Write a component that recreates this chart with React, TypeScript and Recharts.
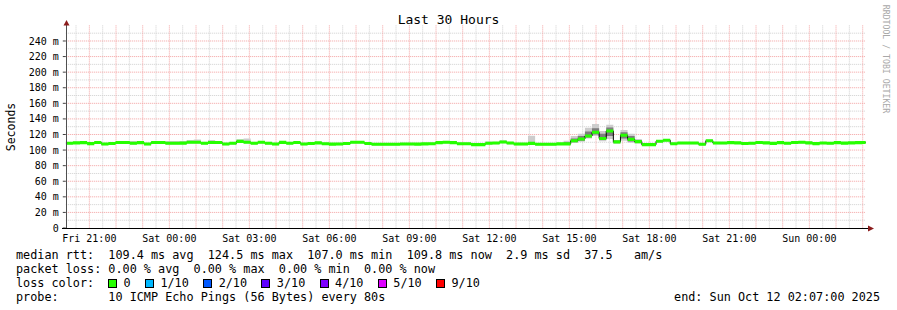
import { ComposedChart, Area, XAxis, YAxis, CartesianGrid } from 'recharts';

// Fri 20:07 -> Sun 02:07, one bucket every 16 minutes
const START_MIN = 7;
const STEP_MIN = 16;
const SPAN_MIN = 1800;

const median = [
  108.7, 109.2, 109.5, 108.3, 109.7, 107.8, 108.5, 109.7, 109.7, 108.7,
  109.5, 107.8, 109.7, 109.7, 108.7, 108.7, 108.9, 110.0, 110.0, 108.7,
  109.7, 109.7, 107.8, 108.7, 111.2, 110.0, 108.7, 110.0, 108.7, 107.8,
  109.9, 108.7, 109.7, 107.8, 108.5, 109.2, 108.2, 107.6, 107.8, 108.5,
  110.0, 110.0, 108.5, 107.5, 107.5, 107.5, 107.5, 107.8, 107.8, 107.6,
  108.0, 108.2, 109.5, 110.0, 109.5, 108.2, 108.2, 107.0, 107.0, 108.7,
  109.0, 110.4, 109.0, 107.8, 107.8, 108.6, 107.5, 107.5, 107.5, 108.0,
  108.0, 112.0, 114.2, 118.0, 122.8, 114.9, 124.5, 110.6, 119.0, 113.8,
  110.8, 107.0, 107.0, 111.3, 112.6, 108.2, 109.0, 109.0, 109.0, 107.5,
  112.0, 109.0, 109.0, 109.5, 109.2, 108.5, 108.7, 109.8, 109.3, 108.6,
  109.5, 108.8, 109.7, 110.0, 109.2, 108.3, 109.0, 108.7, 109.5, 108.9,
  109.2, 109.6, 109.8,
];

const pingMax = [
  110.2, 110.7, 111.0, 109.8, 111.2, 109.3, 110.0, 111.2, 111.2, 111.5,
  111.0, 109.3, 111.2, 111.2, 111.5, 111.5, 111.8, 113.0, 113.5, 110.2,
  113.0, 111.2, 109.3, 110.2, 114.0, 115.0, 110.2, 111.5, 110.2, 109.3,
  111.4, 110.2, 111.2, 109.3, 110.0, 110.7, 109.7, 109.1, 109.3, 110.0,
  111.5, 111.5, 110.0, 109.0, 109.0, 109.0, 109.0, 109.3, 109.3, 109.1,
  109.5, 109.7, 111.0, 111.5, 111.0, 109.7, 109.7, 108.5, 108.5, 111.0,
  110.5, 112.5, 110.5, 109.3, 109.3, 118.5, 109.0, 109.0, 109.0, 109.5,
  112.0, 118.0, 121.0, 128.7, 133.5, 124.5, 132.6, 113.0, 125.8, 121.0,
  114.2, 108.5, 108.5, 113.0, 114.0, 109.7, 110.5, 110.5, 110.5, 109.0,
  113.5, 110.5, 110.5, 111.0, 110.7, 110.0, 110.2, 111.3, 110.8, 110.1,
  111.0, 110.3, 111.2, 111.5, 110.7, 109.8, 110.5, 110.2, 111.0, 110.4,
  110.7, 111.1, 111.3,
];

const pingMin = [
  107.2, 107.7, 108.0, 106.8, 108.2, 106.3, 107.0, 108.2, 108.2, 107.2,
  108.0, 106.3, 108.2, 108.2, 107.2, 107.2, 107.4, 108.5, 108.5, 107.2,
  108.2, 108.2, 106.3, 107.2, 109.7, 108.5, 107.2, 108.5, 107.2, 106.3,
  108.4, 107.2, 108.2, 106.3, 107.0, 107.7, 106.7, 106.1, 106.3, 107.0,
  108.5, 108.5, 107.0, 106.0, 106.0, 106.0, 106.0, 106.3, 106.3, 106.1,
  106.5, 106.7, 108.0, 108.5, 108.0, 106.7, 106.7, 105.5, 105.5, 107.2,
  107.5, 108.9, 107.5, 106.3, 106.3, 107.1, 106.0, 106.0, 106.0, 106.5,
  106.5, 109.5, 110.8, 115.0, 118.0, 111.3, 114.2, 108.2, 112.0, 109.5,
  108.5, 105.5, 105.5, 109.8, 111.1, 106.7, 107.5, 107.5, 107.5, 106.0,
  110.5, 107.5, 107.5, 108.0, 107.7, 107.0, 107.2, 108.3, 107.8, 107.1,
  108.0, 107.3, 108.2, 108.5, 107.7, 106.8, 107.5, 107.2, 108.0, 107.4,
  107.7, 108.1, 108.3,
];

// denser smoke during the Saturday afternoon bump (buckets 70..81)
const INNER_FROM = 70;
const innerHi = [110.0, 115.0, 118.0, 124.0, 128.0, 121.0, 129.0, 112.0, 123.0, 118.0, 113.0, 107.0];
const innerLo = [107.0, 110.0, 112.0, 116.0, 120.0, 113.0, 118.0, 109.5, 115.0, 111.0, 109.5, 107.0];

const xTickHours = [1, 4, 7, 10, 13, 16, 19, 22, 25, 28];
const xTickLabels = ['Fri 21:00', 'Sat 00:00', 'Sat 03:00', 'Sat 06:00', 'Sat 09:00', 'Sat 12:00', 'Sat 15:00', 'Sat 18:00', 'Sat 21:00', 'Sun 00:00'];
const yTicks = [0, 20, 40, 60, 80, 100, 120, 140, 160, 180, 200, 220, 240];
const yMinor = [10, 30, 50, 70, 90, 110, 130, 150, 170, 190, 210, 230, 250];
const xMajor = Array.from({ length: 30 }, (_, i) => i + 1);
const xMinor = Array.from({ length: 30 }, (_, i) => i + 0.5);

const lossLabels = ['0', '1/10', '2/10', '3/10', '4/10', '5/10', '9/10'];
const lossColors = ['#26ff00', '#00b8ff', '#0059ff', '#5e00ff', '#7e00ff', '#dd00ff', '#ff0000'];

const BAND = 2; // half thickness of the median band (ms)
const MONO = '"DejaVu Sans Mono", monospace';
const LEGEND_FONT = 11.8;

const rows = median.map((m, i) => {
  const j = i - INNER_FROM;
  return {
    t: (START_MIN + i * STEP_MIN) / 60,
    med: m,
    smoke: [pingMin[i], pingMax[i]],
    inner: j >= 0 && j < innerHi.length ? [innerLo[j], innerHi[j]] : null,
    band: [m - BAND, m + BAND],
  };
});
const last = rows[rows.length - 1];
rows.push({ ...last, t: (START_MIN + SPAN_MIN) / 60, inner: null });

const legendLine = (top: number, text: string) => (
  <div style={{ position: 'absolute', left: 16, top, fontFamily: MONO, fontSize: LEGEND_FONT, lineHeight: '14px', whiteSpace: 'pre', color: '#000' }}>
    {text}
  </div>
);

export default function App() {
  return (
    <div style={{ position: 'absolute', left: 0, top: 0, width: 897, height: 310, background: '#fff', overflow: 'hidden' }}>
      <ComposedChart width={897} height={310} data={rows} margin={{ top: 25.4, right: 31.2, bottom: 62, left: 0 }}>
        <CartesianGrid horizontalValues={yMinor} verticalValues={xMinor} stroke="#cfcfcf" strokeDasharray="1 1" />
        <CartesianGrid horizontalValues={yTicks.slice(1)} verticalValues={xMajor} stroke="#f3a0a0" strokeDasharray="1 1" />
        <XAxis
          dataKey="t"
          type="number"
          domain={[START_MIN / 60, (START_MIN + SPAN_MIN) / 60]}
          allowDataOverflow
          ticks={xTickHours}
          tickFormatter={(v: number) => xTickLabels[xTickHours.indexOf(v)]}
          height={20}
          axisLine={false}
          tickLine={false}
          tickSize={3}
          tickMargin={4}
          tick={{ fill: '#000', fontSize: 10, fontFamily: MONO }}
          interval={0}
        />
        <YAxis
          type="number"
          domain={[0, 260]}
          allowDataOverflow
          ticks={yTicks}
          tickFormatter={(v: number) => (v === 0 ? '0' : `${v} m`)}
          width={65.8}
          axisLine={false}
          tickLine={{ stroke: '#404040' }}
          tickSize={3}
          tickMargin={4}
          tick={{ fill: '#000', fontSize: 10, fontFamily: MONO }}
          interval={0}
        />
        <Area dataKey="smoke" type="stepAfter" fill="#cdcdcd" fillOpacity={1} stroke="none" isAnimationActive={false} />
        <Area dataKey="inner" type="stepAfter" fill="#6e6e6e" fillOpacity={0.85} stroke="none" isAnimationActive={false} />
        <Area dataKey="med" type="stepAfter" fill="none" stroke="#000" strokeWidth={1} isAnimationActive={false} />
        <Area dataKey="band" type="stepAfter" fill="#26ff00" fillOpacity={1} stroke="none" isAnimationActive={false} />
      </ComposedChart>

      <svg width={897} height={310} style={{ position: 'absolute', left: 0, top: 0, pointerEvents: 'none' }}>
        <line x1={66.5} y1={229} x2={66.5} y2={24} stroke="#505050" strokeWidth={1} />
        <line x1={62} y1={228.5} x2={870} y2={228.5} stroke="#000" strokeWidth={1} />
        <polygon points="63.5,25.5 69.5,25.5 66.5,20" fill="#8b1c1c" />
        <polygon points="868,225.5 868,231.5 874,228.5" fill="#8b1c1c" />
      </svg>

      <div style={{ position: 'absolute', left: 0, width: 897, top: 12, textAlign: 'center', fontFamily: MONO, fontSize: 13, lineHeight: '16px', color: '#000' }}>
        Last 30 Hours
      </div>
      <div style={{ position: 'absolute', left: 11, top: 127, transform: 'translate(-50%, -50%) rotate(-90deg)', fontFamily: MONO, fontSize: 11.5, whiteSpace: 'nowrap', color: '#000' }}>
        Seconds
      </div>
      <div style={{ position: 'absolute', left: 886, top: 59, transform: 'translate(-50%, -50%) rotate(90deg)', fontFamily: MONO, fontSize: 8.2, whiteSpace: 'nowrap', color: '#a8a8a8' }}>
        RRDTOOL / TOBI OETIKER
      </div>

      {legendLine(248, 'median rtt:  109.4 ms avg  124.5 ms max  107.0 ms min  109.8 ms now  2.9 ms sd  37.5   am/s')}
      {legendLine(262, 'packet loss: 0.00 % avg  0.00 % max  0.00 % min  0.00 % now')}
      <div style={{ position: 'absolute', left: 16, top: 276, fontFamily: MONO, fontSize: LEGEND_FONT, lineHeight: '14px', whiteSpace: 'pre', color: '#000', display: 'flex', alignItems: 'center' }}>
        <span style={{ width: 92 }}>loss color:</span>
        {lossLabels.map((l, i) => (
          <span key={l} style={{ display: 'inline-flex', alignItems: 'center', marginRight: 14.3 }}>
            <span style={{ display: 'inline-block', width: 9, height: 9, boxSizing: 'border-box', border: '1px solid #000', background: lossColors[i], marginRight: 6.5 }} />
            {l}
          </span>
        ))}
      </div>
      {legendLine(290, 'probe:       10 ICMP Echo Pings (56 Bytes) every 80s')}
      <div style={{ position: 'absolute', right: 17, top: 290, fontFamily: MONO, fontSize: LEGEND_FONT, lineHeight: '14px', whiteSpace: 'pre', color: '#000' }}>
        end: Sun Oct 12 02:07:00 2025
      </div>
    </div>
  );
}
